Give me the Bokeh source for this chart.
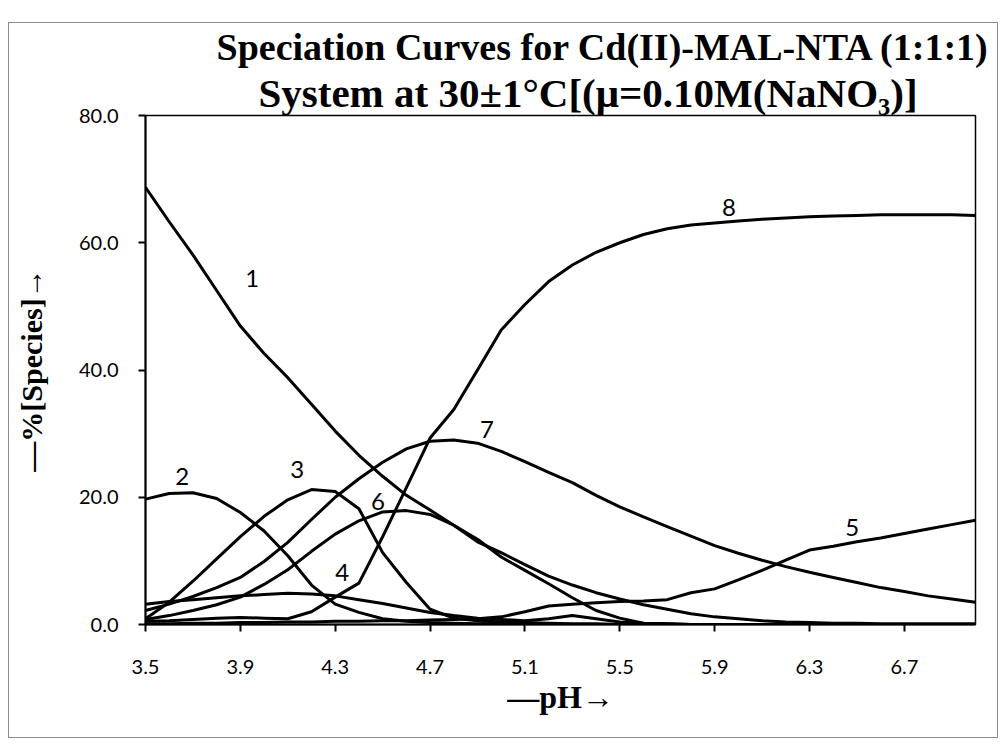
from bokeh.plotting import figure
from bokeh.models import FixedTicker, NumeralTickFormatter, Title, Range1d, ColumnDataSource
from bokeh.embed import file_html
from bokeh.resources import INLINE
from bokeh.core.properties import value

# ---------------- data ----------------
ph = [3.5, 3.6, 3.7, 3.8, 3.9, 4.0, 4.1, 4.2, 4.3, 4.4, 4.5, 4.6, 4.7, 4.8, 4.9, 5.0,
      5.1, 5.2, 5.3, 5.4, 5.5, 5.6, 5.7, 5.8, 5.9, 6.0, 6.1, 6.2, 6.3, 6.4, 6.5, 6.6,
      6.7, 6.8, 6.9, 7.0]

species_1 = [68.7, 63.3, 58.1, 52.5, 46.9, 42.6, 38.8, 34.6, 30.4, 26.6, 23.3, 20.3,
             18.0, 15.6, 13.4, 10.6, 8.5, 6.4, 4.2, 2.2, 1.0, 0.2, 0.1, 0.0, 0.0, 0.0,
             0.0, 0.0, 0.0, 0.0, 0.0, 0.0, 0.0, 0.0, 0.0, 0.0]
species_2 = [19.7, 20.6, 20.7, 19.8, 17.6, 14.7, 10.8, 6.2, 3.2, 1.9, 0.9, 0.5, 0.3,
             0.2, 0.1, 0.1, 0.0, 0.0, 0.0, 0.0, 0.0, 0.0, 0.0, 0.0, 0.0, 0.0, 0.0, 0.0,
             0.0, 0.0, 0.0, 0.0, 0.0, 0.0, 0.0, 0.0]
species_3 = [0.9, 3.5, 6.8, 10.3, 13.8, 17.0, 19.6, 21.2, 20.9, 18.2, 11.3, 6.6, 2.4,
             1.0, 0.6, 0.4, 0.3, 0.2, 0.1, 0.1, 0.0, 0.0, 0.0, 0.0, 0.0, 0.0, 0.0, 0.0,
             0.0, 0.0, 0.0, 0.0, 0.0, 0.0, 0.0, 0.0]
species_4 = [3.2, 3.6, 3.9, 4.2, 4.5, 4.7, 4.9, 4.8, 4.5, 3.9, 3.3, 2.6, 1.9, 1.4, 1.0,
             0.8, 0.6, 0.9, 1.4, 0.9, 0.4, 0.2, 0.1, 0.0, 0.0, 0.0, 0.0, 0.0, 0.0, 0.0,
             0.0, 0.0, 0.0, 0.0, 0.0, 0.0]
species_5 = [0.1, 0.1, 0.2, 0.2, 0.3, 0.3, 0.4, 0.4, 0.5, 0.5, 0.6, 0.6, 0.7, 0.8, 0.9,
             1.2, 2.0, 2.9, 3.2, 3.4, 3.6, 3.7, 3.9, 5.0, 5.6, 7.0, 8.5, 10.1, 11.7, 12.3,
             13.0, 13.6, 14.3, 15.0, 15.7, 16.4]
species_6 = [0.8, 1.4, 2.2, 3.1, 4.3, 6.3, 8.6, 11.5, 14.2, 16.3, 17.7, 17.9, 17.3, 15.6,
             13.0, 11.3, 9.4, 7.6, 6.2, 5.0, 4.0, 3.1, 2.4, 1.7, 1.2, 0.9, 0.6, 0.4, 0.3,
             0.2, 0.2, 0.1, 0.1, 0.1, 0.1, 0.1]
species_7 = [2.2, 3.2, 4.4, 5.8, 7.4, 9.9, 12.9, 16.5, 20.0, 22.9, 25.5, 27.6, 28.8, 29.0,
             28.5, 27.2, 25.6, 23.9, 22.3, 20.3, 18.5, 16.9, 15.4, 13.9, 12.4, 11.2, 10.1,
             9.1, 8.2, 7.4, 6.6, 5.8, 5.2, 4.5, 4.0, 3.5]
species_8 = [0.5, 0.6, 0.8, 1.0, 1.1, 1.0, 0.9, 2.0, 4.3, 6.5, 13.8, 21.5, 29.3, 33.8,
             40.0, 46.3, 50.3, 53.9, 56.5, 58.5, 60.0, 61.3, 62.2, 62.8, 63.1, 63.4, 63.7,
             63.9, 64.1, 64.2, 64.3, 64.4, 64.4, 64.4, 64.4, 64.3]

curve_names = ["1", "2", "3", "4", "5", "6", "7", "8"]
label_x = [3.95, 3.655, 4.14, 4.33, 6.48, 4.48, 4.94, 5.96]
label_y = [54.4, 23.3, 24.4, 8.2, 15.2, 19.4, 30.6, 65.6]

x_ticks = [3.5, 3.9, 4.3, 4.7, 5.1, 5.5, 5.9, 6.3, 6.7]
y_ticks = [0, 20, 40, 60, 80]

title_line1 = "Speciation Curves for Cd(II)-MAL-NTA (1:1:1)"
title_line2 = "System at 30\u00b11\u00b0C[(\u03bc=0.10M(NaNO\u2083)]"
x_label = "\u2014pH\u2192"
y_label = "\u2014%[Species]\u2192"

# ---------------- figure ----------------
p = figure(width=990, height=716, x_range=Range1d(3.5, 7.0), y_range=Range1d(0, 80),
           output_backend="svg", toolbar_location=None,
           min_border_left=136, min_border_right=24, min_border_top=90,
           min_border_bottom=115,
           styles={"margin-top": "22px", "margin-left": "8px",
                   "border": "1px solid #8c8c8c"})

p.background_fill_color = "white"
p.border_fill_color = "white"
p.outline_line_color = "black"
p.outline_line_width = 1.5
p.xgrid.visible = False
p.ygrid.visible = False

serif = "Liberation Serif"
sans = "Lato"

p.add_layout(Title(text=title_line2, align="left", offset=113, text_font=serif,
                   text_font_style="bold", text_font_size="41px", text_color="black",
                   standoff=0), "above")
p.add_layout(Title(text=title_line1, align="left", offset=71, text_font=serif,
                   text_font_style="bold", text_font_size="38px", text_color="black",
                   standoff=0), "above")

for ax in (p.xaxis[0], p.yaxis[0]):
    ax.axis_line_color = "black"
    ax.axis_line_width = 2
    ax.major_tick_line_color = "black"
    ax.major_tick_line_width = 2
    ax.major_tick_in = 0
    ax.major_tick_out = 7
    ax.minor_tick_line_color = None
    ax.major_label_text_font = sans
    ax.major_label_text_font_size = "20px"
    ax.major_label_text_color = "black"
    ax.axis_label_text_font = serif
    ax.axis_label_text_font_style = "bold"
    ax.axis_label_text_color = "black"

p.xaxis.axis_label_text_font_size = "32px"
p.yaxis.axis_label_text_font_size = "30px"
p.xaxis.ticker = FixedTicker(ticks=x_ticks)
p.yaxis.ticker = FixedTicker(ticks=y_ticks)
p.xaxis.formatter = NumeralTickFormatter(format="0.0")
p.yaxis.formatter = NumeralTickFormatter(format="0.0")
p.xaxis.major_label_standoff = 28
p.yaxis.major_label_standoff = 20
p.xaxis.axis_label = x_label
p.yaxis.axis_label = y_label
p.xaxis.axis_label_standoff = 2
p.yaxis.axis_label_standoff = 28

for ys in [species_1, species_2, species_3, species_4, species_5, species_6, species_7, species_8]:
    p.line(ph, ys, line_color="black", line_width=3, line_join="round")

src = ColumnDataSource(dict(x=label_x, y=label_y, t=curve_names))
p.text(x="x", y="y", text="t", source=src, text_font=value(sans), text_font_size="24px",
       text_color="black", text_align="center", text_baseline="middle")

open("out.html", "w").write(file_html(p, INLINE))
